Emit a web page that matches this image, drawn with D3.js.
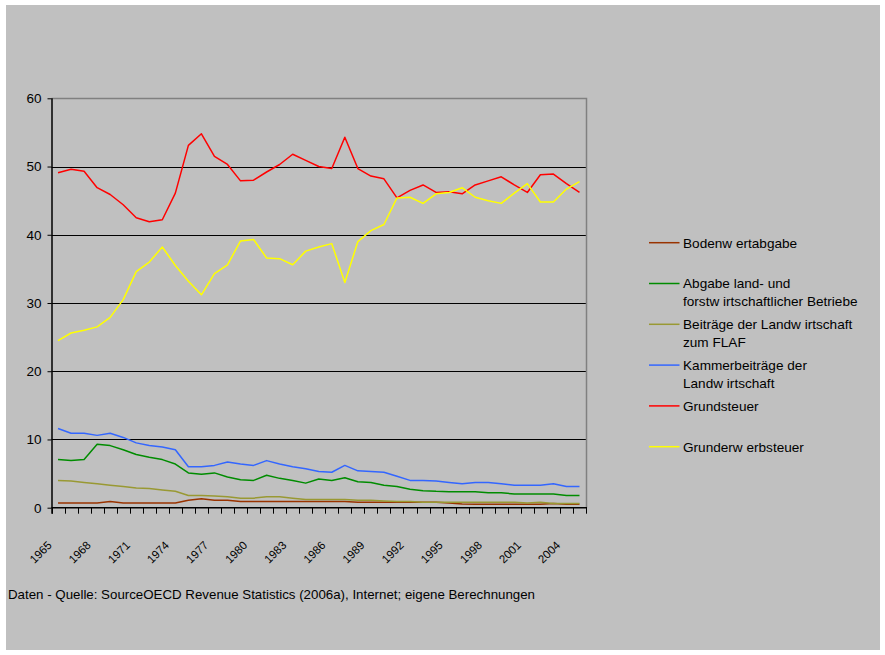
<!DOCTYPE html>
<html><head><meta charset="utf-8">
<script src="https://cdn.jsdelivr.net/npm/d3@7"></script>
<style>body{margin:0;background:#fff}svg{display:block}text{font-family:"Liberation Sans",Arial,sans-serif;fill:#000}</style>
</head><body>
<script>
const years = ["1965","1966","1967","1968","1969","1970","1971","1972","1973","1974","1975","1976","1977","1978","1979","1980","1981","1982","1983","1984","1985","1986","1987","1988","1989","1990","1991","1992","1993","1994","1995","1996","1997","1998","1999","2000","2001","2002","2003","2004","2005"];
const yearTickLabels = ["1965","1968","1971","1974","1977","1980","1983","1986","1989","1992","1995","1998","2001","2004"];
const yTicks = [0,10,20,30,40,50,60];
const bodenwertabgabe = [0.7,0.7,0.7,0.7,0.9,0.7,0.7,0.7,0.7,0.7,1.1,1.3,1.1,1.1,0.9,0.9,0.9,0.9,0.9,0.9,0.9,0.9,0.9,0.8,0.8,0.8,0.8,0.8,0.8,0.8,0.7,0.55,0.5,0.5,0.5,0.5,0.5,0.5,0.6,0.5,0.5];
const abgabeLandForst = [7.05,6.9,7.05,9.3,9.1,8.5,7.8,7.4,7.05,6.4,5.1,4.9,5.1,4.5,4.1,4.0,4.75,4.3,4.0,3.6,4.2,4.0,4.4,3.8,3.7,3.3,3.1,2.7,2.5,2.4,2.35,2.35,2.35,2.2,2.2,2.0,2.0,2.0,2.0,1.8,1.8];
const beitraegeFLAF = [4.0,3.9,3.7,3.5,3.3,3.1,2.9,2.8,2.6,2.4,1.8,1.8,1.7,1.6,1.4,1.4,1.6,1.6,1.4,1.2,1.2,1.2,1.2,1.1,1.1,1.0,0.9,0.9,0.8,0.8,0.8,0.8,0.8,0.8,0.8,0.8,0.7,0.8,0.6,0.6,0.6];
const kammerbeitraege = [11.6,10.9,10.9,10.6,10.9,10.3,9.5,9.1,8.9,8.5,6.0,6.0,6.2,6.7,6.4,6.2,6.9,6.4,6.0,5.7,5.3,5.2,6.2,5.4,5.3,5.2,4.6,4.0,4.0,3.9,3.7,3.5,3.7,3.7,3.5,3.3,3.3,3.3,3.5,3.1,3.1];
const grundsteuer = [49.1,49.6,49.3,46.9,45.9,44.4,42.5,41.9,42.2,46.1,53.1,54.8,51.5,50.3,47.9,48.0,49.2,50.3,51.8,50.9,50.0,49.7,54.3,49.7,48.6,48.2,45.4,46.5,47.3,46.2,46.3,46.0,47.3,47.9,48.5,47.3,46.2,48.8,48.9,47.5,46.2];
const grunderwerbsteuer = [24.5,25.6,26.0,26.5,27.9,30.5,34.6,36.0,38.2,35.5,33.2,31.2,34.3,35.6,39.1,39.3,36.6,36.5,35.6,37.6,38.2,38.7,33.0,39.0,40.6,41.5,45.4,45.5,44.6,46.0,46.2,46.9,45.5,45.0,44.6,46.1,47.5,44.8,44.8,46.7,47.8];
const seriesNames = [["Bodenw ertabgabe"],["Abgabe land- und","forstw irtschaftlicher Betriebe"],["Beiträge der Landw irtschaft","zum FLAF"],["Kammerbeiträge der","Landw irtschaft"],["Grundsteuer"],["Grunderw erbsteuer"]];
const seriesColors = ["#993300","#008c00","#999933","#3366ff","#ff0000","#ffff00"];
const seriesValues = [bodenwertabgabe, abgabeLandForst, beitraegeFLAF, kammerbeitraege, grundsteuer, grunderwerbsteuer];
const footer = "Daten - Quelle: SourceOECD Revenue Statistics (2006a), Internet; eigene Berechnungen";

const W = 885, H = 655;
const svg = d3.select("body").append("svg").attr("width", W).attr("height", H);
svg.append("rect").attr("x",6).attr("y",5).attr("width",874).attr("height",645).attr("fill","#c0c0c0");

const L = 51.5, R = 586, T = 98.3, B = 507.7;
const x = d3.scaleBand().domain(years).range([L, R]).padding(0);
const y = d3.scaleLinear().domain([0, 60]).range([B, T]);

// gridlines
svg.append("g").selectAll("line").data(yTicks.filter(v => v > 0 && v < 60)).join("line")
  .attr("x1", L).attr("x2", R).attr("y1", d => Math.round(y(d)) + 0.5).attr("y2", d => Math.round(y(d)) + 0.5)
  .attr("stroke", "#000").attr("stroke-width", 1);
// plot border top/right
svg.append("path").attr("d", `M${L},${Math.round(T)+0.5}H${Math.round(R)+0.5}V${B}`).attr("fill","none").attr("stroke","#808080").attr("stroke-width",1.5);

// y axis
const yAxis = d3.axisLeft(y).tickValues(yTicks).tickSize(4).tickPadding(6).tickFormat(d3.format("d"));
const gy = svg.append("g").attr("transform", `translate(${L},0)`).call(yAxis);
gy.select(".domain").remove();
gy.selectAll(".tick line").attr("stroke","#000");
gy.selectAll("text").style("font-size","13.5px").attr("fill","#000");

// x axis: ticks at category boundaries
const gx = svg.append("g");
const boundaries = years.map(d => x(d)).concat([x(years[years.length-1]) + x.bandwidth()]);
gx.selectAll("line.t").data(boundaries).join("line").attr("class","t")
  .attr("x1", d => Math.round(d)+0.5).attr("x2", d => Math.round(d)+0.5).attr("y1", B).attr("y2", B + 6)
  .attr("stroke","#000");
gx.append("line").attr("x1", L).attr("x2", R+1).attr("y1", B).attr("y2", B).attr("stroke","#000").attr("stroke-width",1.5);
svg.append("line").attr("x1", L+0.5).attr("x2", L+0.5).attr("y1", T).attr("y2", B+6).attr("stroke","#000").attr("stroke-width",1.5);

gx.selectAll("text").data(yearTickLabels).join("text")
  .attr("transform", d => `translate(${x(d) + x.bandwidth()/2 - 5.5},${546}) rotate(-45)`)
  .attr("text-anchor","end").style("font-size","11.5px").text(d => d);

// lines
const line = d3.line().x((d, i) => x(years[i]) + x.bandwidth()/2).y(d => y(d));
svg.append("g").selectAll("path").data(seriesValues).join("path")
  .attr("d", d => line(d)).attr("fill","none")
  .attr("stroke", (d, i) => seriesColors[i]).attr("stroke-width", 1.5).attr("stroke-linejoin","round");

// legend
const lg = svg.append("g");
seriesNames.forEach((names, k) => {
  const cy = 242.7 + 40.8 * k;
  lg.append("line").attr("x1", 649).attr("x2", 679.5).attr("y1", cy).attr("y2", cy)
    .attr("stroke", seriesColors[k]).attr("stroke-width", 1.5);
  names.forEach((t, j) => {
    lg.append("text").attr("x", 683).attr("y", cy + 4.8 + j * 17.7).style("font-size","13.6px").text(t);
  });
});

svg.append("text").attr("x", 8).attr("y", 598.5).style("font-size","13.3px").text(footer);
</script>
</body></html>
